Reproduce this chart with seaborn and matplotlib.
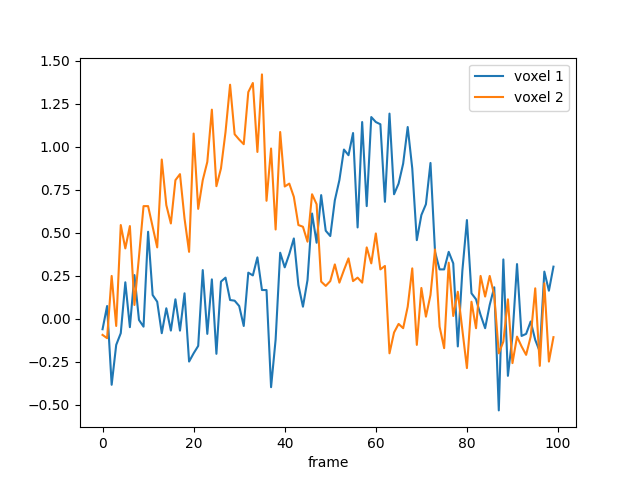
import matplotlib
matplotlib.use("Agg")
import matplotlib.pyplot as plt
import seaborn as sns
import numpy as np
import pandas as pd

frames = list(range(100))

voxel1 = [
    -0.06, 0.075, -0.383, -0.151, -0.083, 0.213, -0.048, 0.255, -0.006, -0.045,
    0.507, 0.139, 0.10, -0.083, 0.062, -0.068, 0.114, -0.068, 0.149, -0.248,
    -0.20, -0.157, 0.284, -0.087, 0.23, -0.203, 0.217, 0.24, 0.11, 0.106,
    0.075, -0.041, 0.269, 0.253, 0.358, 0.168, 0.168, -0.397, -0.12, 0.385,
    0.30, 0.377, 0.468, 0.197, 0.071, 0.226, 0.613, 0.443, 0.72, 0.513,
    0.482, 0.69, 0.807, 0.985, 0.952, 1.081, 0.532, 1.145, 0.656, 1.174,
    1.145, 1.132, 0.681, 1.194, 0.725, 0.787, 0.903, 1.116, 0.875, 0.458,
    0.604, 0.667, 0.907, 0.39, 0.288, 0.288, 0.39, 0.323, -0.16, 0.28,
    0.575, 0.149, 0.114, 0.023, -0.054, 0.081, 0.184, -0.532, 0.346, -0.331,
    -0.10, 0.319, -0.099, -0.087, -0.015, -0.122, -0.19, 0.275, 0.164, 0.304,
]

voxel2 = [
    -0.093, -0.112, 0.25, -0.041, 0.546, 0.41, 0.54, 0.081, 0.362, 0.656,
    0.656, 0.536, 0.416, 0.927, 0.662, 0.555, 0.807, 0.842, 0.584, 0.39,
    1.078, 0.64, 0.807, 0.913, 1.217, 0.772, 0.875, 1.087, 1.362, 1.074,
    1.043, 1.016, 1.319, 1.372, 0.971, 1.422, 0.687, 0.991, 0.52, 1.087,
    0.77, 0.787, 0.71, 0.546, 0.536, 0.449, 0.725, 0.667, 0.217, 0.192,
    0.22, 0.317, 0.211, 0.284, 0.352, 0.22, 0.24, 0.211, 0.416, 0.323,
    0.497, 0.288, 0.308, -0.2, -0.079, -0.029, -0.054, 0.071, 0.294, -0.151,
    0.18, 0.013, 0.139, 0.404, -0.045, -0.17, 0.327, 0.017, 0.158, -0.064,
    -0.286, 0.10, -0.054, 0.25, 0.13, 0.25, 0.139, -0.2, -0.132, 0.114,
    -0.257, -0.103, -0.16, -0.209, -0.103, 0.178, -0.273, 0.207, -0.248, -0.106,
]

labels = ["voxel 1", "voxel 2"]

fig, ax = plt.subplots(figsize=(6.4, 4.8), dpi=100)
sns.lineplot(x=frames, y=voxel1, ax=ax, label=labels[0], color="#1f77b4")
sns.lineplot(x=frames, y=voxel2, ax=ax, label=labels[1], color="#ff7f0e")
ax.set_xlabel("frame")
ax.set_ylabel("")
ax.legend(loc="upper right")
fig.savefig("out.png", dpi=100)
